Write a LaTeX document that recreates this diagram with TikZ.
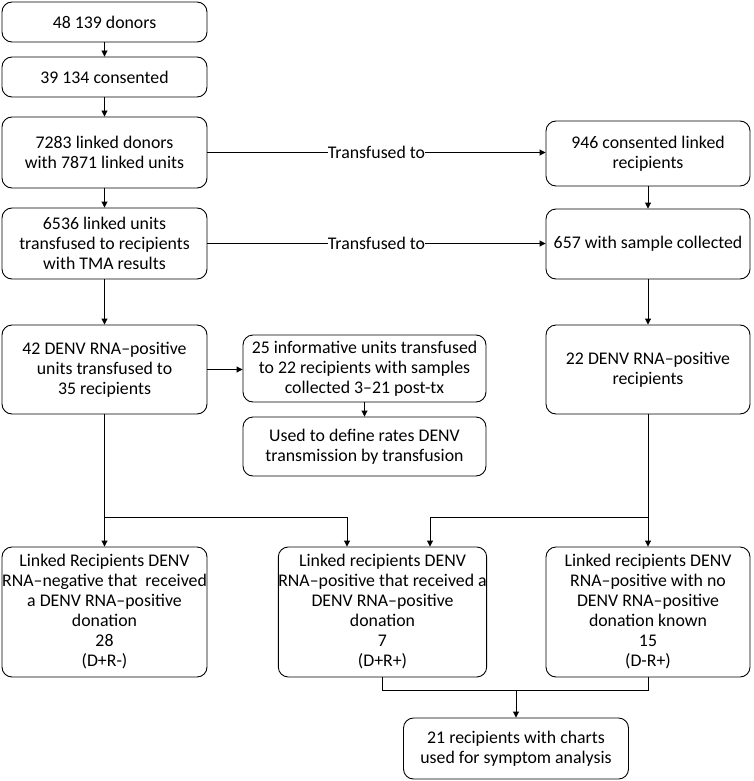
\documentclass[tikz,border=0pt]{standalone}
\usepackage{fontspec}
\setmainfont{Carlito}
\usepackage{tikz}
\usetikzlibrary{arrows.meta,positioning}

\begin{document}
\begin{tikzpicture}[
    x=1pt, y=-1pt,
    >={Triangle[length=6pt,width=6pt]},
    line width=0.9pt,
    flowbox/.style={draw, rounded corners=10pt, align=center, inner xsep=0pt, inner ysep=2pt,
        font=\fontsize{17.8}{20}\selectfont, minimum width=205pt},
    flowline/.style={->},
    edgelabel/.style={fill=white, inner sep=0pt, font=\fontsize{17.8}{20}\selectfont},
]
\useasboundingbox (0,0) rectangle (753,781);

\def\colL{104.5}
\def\colM{382.5}
\def\colR{648}
\def\splitY{517}
\def\mergeY{690}

% === Donor side ===
\node[flowbox, minimum height=40pt] (donors) at (\colL,22) {48 139 donors};
\node[flowbox, minimum height=40pt] (consent) at (\colL,77) {39 134 consented};
\node[flowbox, minimum height=71pt] (linked) at (\colL,152.5) {7283 linked donors\\with 7871 linked units};
\node[flowbox, minimum height=71pt] (units) at (\colL,243.5) {6536 linked units\\transfused to recipients\\with TMA results};
\node[flowbox, minimum height=89pt] (posunits) at (\colL,369.5) {42 DENV RNA–positive\\units transfused to\\35 recipients};

\draw[flowline] (donors) -- (consent);
\draw[flowline] (consent) -- (linked);
\draw[flowline] (linked) -- (units);
\draw[flowline] (units) -- (posunits);

% === Recipient side ===
\node[flowbox, minimum width=204pt, minimum height=65pt] (recip) at (\colR,153.5) {946 consented linked\\recipients};
\node[flowbox, minimum width=204pt, minimum height=70pt] (sample) at (\colR,244) {657 with sample collected};
\node[flowbox, minimum width=204pt, minimum height=89pt] (posrecip) at (\colR,369.5) {22 DENV RNA–positive\\recipients};

\draw[flowline] (recip) -- (sample);
\draw[flowline] (sample) -- (posrecip);

\draw[flowline] (linked.east) -- (linked.east -| recip.west)
    node[midway, edgelabel] {Transfused to};
\draw[flowline] (units.east) -- (units.east -| sample.west)
    node[midway, edgelabel] {Transfused to};

% === Informative units ===
\node[flowbox, minimum width=243pt, minimum height=67pt] (inform) at (364.5,368.5) {25 informative units transfused\\to 22 recipients with samples\\collected 3–21 post-tx};
\node[flowbox, minimum width=243pt, minimum height=59pt] (rates) at (364.5,446.5) {Used to define rates DENV\\transmission by transfusion};

\draw[flowline] (posunits.east) -- (posunits.east -| inform.west);
\draw[flowline] (inform) -- (rates);

% === Outcome groups ===
\node[flowbox, minimum height=130pt] (dnegr) at (\colL,612) {Linked Recipients DENV\\RNA–negative that~ received\\a DENV RNA–positive\\donation\\28\\(D+R-)};
\node[flowbox, minimum height=130pt] (dposr) at (\colM,612) {Linked recipients DENV\\RNA–positive that received a\\DENV RNA–positive\\donation\\7\\(D+R+)};
\node[flowbox, minimum width=204pt, minimum height=130pt] (dnoner) at (\colR,612) {Linked recipients DENV\\RNA–positive with no\\DENV RNA–positive\\donation known\\15\\(D-R+)};

\coordinate (splitL) at (\colL,\splitY);
\coordinate (splitR) at (\colR,\splitY);
\coordinate (inL) at (347,\splitY);
\coordinate (inR) at (430,\splitY);

\draw[flowline] (posunits) -- (dnegr);
\draw[flowline] (splitL) -- (inL) -- (inL |- dposr.north);
\draw[flowline] (posrecip) -- (dnoner);
\draw[flowline] (splitR) -- (inR) -- (inR |- dposr.north);

% === Symptom analysis ===
\node[flowbox, minimum width=225pt, minimum height=61pt] (charts) at (516,748.5) {21 recipients with charts\\used for symptom analysis};

\coordinate (mergeL) at (\colM,\mergeY);
\coordinate (mergeR) at (\colR,\mergeY);
\coordinate (mergeC) at (516,\mergeY);

\draw (dposr.south) -- (mergeL) -- (mergeR) -- (dnoner.south);
\draw[flowline] (mergeC) -- (charts);

\end{tikzpicture}
\end{document}
